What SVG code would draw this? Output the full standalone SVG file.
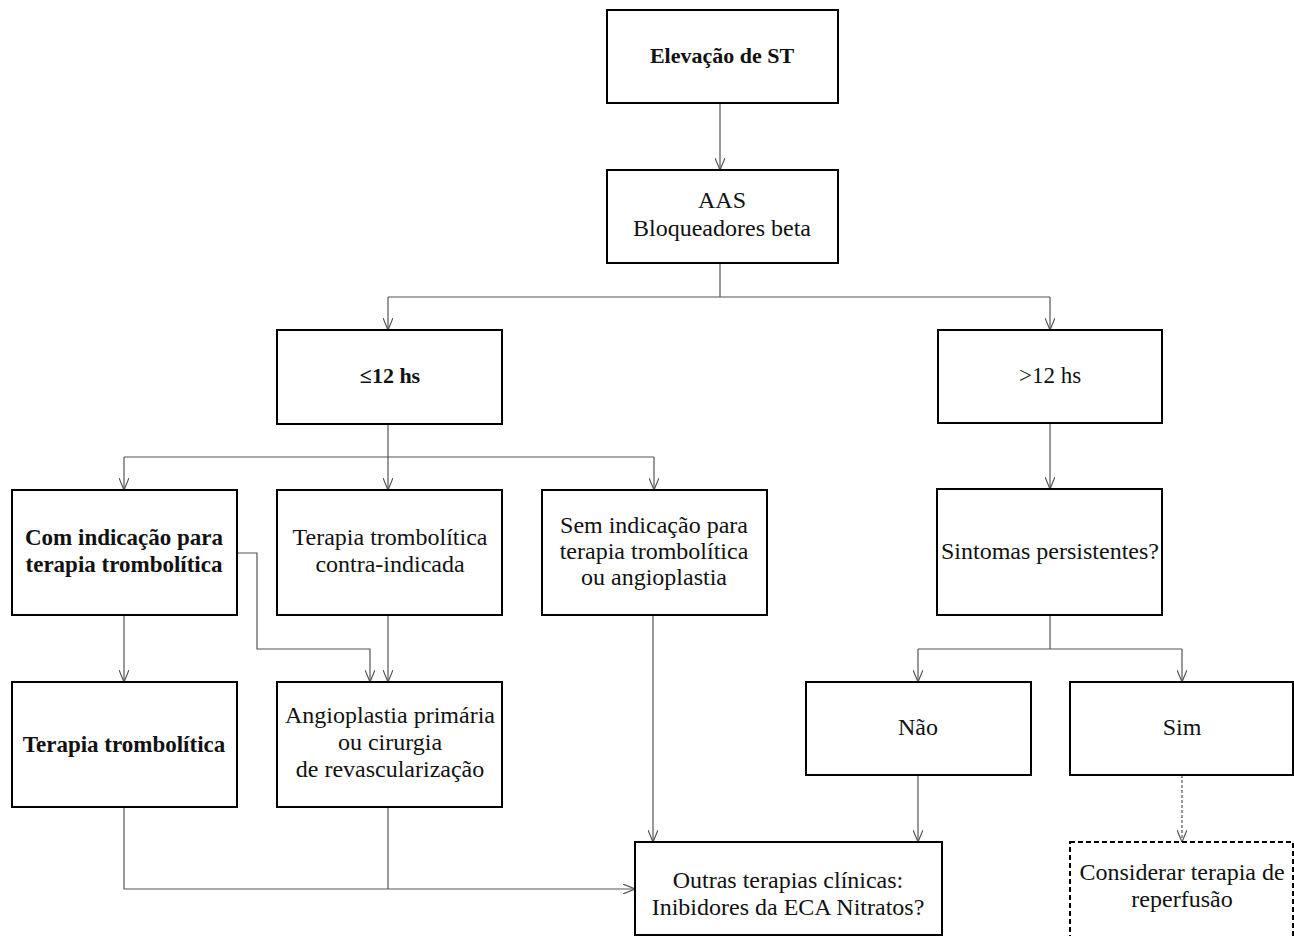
<svg xmlns="http://www.w3.org/2000/svg" width="1294" height="936" viewBox="0 0 1294 936">
<style>
.box{fill:#fff;stroke:#000;stroke-width:2}
.dbox{fill:#fff;stroke:#000;stroke-width:2;stroke-dasharray:5,3}
.t{font-family:"Liberation Serif",serif;font-size:24px;fill:#111;text-anchor:middle}
.b{font-weight:bold;font-size:23px}
.c{fill:none;stroke:#555;stroke-width:1.2}
.d{stroke-dasharray:3,2}
</style>
<defs>
<marker id="ah" markerUnits="userSpaceOnUse" viewBox="0 0 12 10" markerWidth="12" markerHeight="10" refX="12" refY="5" orient="auto">
<path d="M0,0 L12,5 L0,10" fill="none" stroke="#555" stroke-width="1.2"/>
</marker>
</defs>
<rect width="1294" height="936" fill="#fff"/>
<g id="connectors">
<path class="c" d="M720,103 V170" marker-end="url(#ah)"/>
<path class="c" d="M720,263 V297"/>
<path class="c" d="M388,297 H1050"/>
<path class="c" d="M388,297 V330" marker-end="url(#ah)"/>
<path class="c" d="M1050,297 V330" marker-end="url(#ah)"/>
<path class="c" d="M388,424 V457"/>
<path class="c" d="M124,457 H654"/>
<path class="c" d="M124,457 V490" marker-end="url(#ah)"/>
<path class="c" d="M388,457 V490" marker-end="url(#ah)"/>
<path class="c" d="M654,457 V490" marker-end="url(#ah)"/>
<path class="c" d="M1050,423 V489" marker-end="url(#ah)"/>
<path class="c" d="M1050,615 V649"/>
<path class="c" d="M918,649 H1182"/>
<path class="c" d="M918,649 V682" marker-end="url(#ah)"/>
<path class="c" d="M1182,649 V682" marker-end="url(#ah)"/>
<path class="c" d="M124,615 V682" marker-end="url(#ah)"/>
<path class="c" d="M237,553 H257 V649 H370 V682" marker-end="url(#ah)"/>
<path class="c" d="M388,615 V682" marker-end="url(#ah)"/>
<path class="c" d="M653,615 V842" marker-end="url(#ah)"/>
<path class="c" d="M918,775 V842" marker-end="url(#ah)"/>
<path class="c d" d="M1182,775 V842" marker-end="url(#ah)"/>
<path class="c" d="M124,807 V889 H635" marker-end="url(#ah)"/>
<path class="c" d="M388,807 V889"/>
</g>
<g id="n-elevacao">
<rect class="box" x="607" y="10" width="231" height="93"/>
<text class="t b" x="722" y="63" style="font-size:22px">Elevação de ST</text>
</g>
<g id="n-aas">
<rect class="box" x="607" y="170" width="231" height="93"/>
<text class="t" x="722" y="208">AAS</text>
<text class="t" x="722" y="236">Bloqueadores beta</text>
</g>
<g id="n-le12">
<rect class="box" x="277" y="330" width="225" height="94"/>
<text class="t b" x="390" y="383" style="font-size:22px">≤12 hs</text>
</g>
<g id="n-gt12">
<rect class="box" x="938" y="330" width="224" height="93"/>
<text class="t" x="1050" y="383" style="font-size:23px">&gt;12 hs</text>
</g>
<g id="n-com">
<rect class="box" x="12" y="490" width="225" height="125"/>
<text class="t b" x="124" y="545">Com indicação para</text>
<text class="t b" x="124" y="572">terapia trombolítica</text>
</g>
<g id="n-contra">
<rect class="box" x="277" y="490" width="225" height="125"/>
<text class="t" x="390" y="545">Terapia trombolítica</text>
<text class="t" x="390" y="572">contra-indicada</text>
</g>
<g id="n-sem">
<rect class="box" x="542" y="490" width="225" height="125"/>
<text class="t" x="654" y="533">Sem indicação para</text>
<text class="t" x="654" y="559">terapia trombolítica</text>
<text class="t" x="654" y="585">ou angioplastia</text>
</g>
<g id="n-sintomas">
<rect class="box" x="937" y="489" width="225" height="126"/>
<text class="t" x="1050" y="559">Sintomas persistentes?</text>
</g>
<g id="n-terapia">
<rect class="box" x="12" y="682" width="225" height="125"/>
<text class="t b" x="124" y="752">Terapia trombolítica</text>
</g>
<g id="n-angio">
<rect class="box" x="277" y="682" width="225" height="125"/>
<text class="t" x="390" y="723">Angioplastia primária</text>
<text class="t" x="390" y="750">ou cirurgia</text>
<text class="t" x="390" y="777">de revascularização</text>
</g>
<g id="n-nao">
<rect class="box" x="806" y="682" width="225" height="93"/>
<text class="t" x="918" y="735">Não</text>
</g>
<g id="n-sim">
<rect class="box" x="1070" y="682" width="223" height="93"/>
<text class="t" x="1182" y="735">Sim</text>
</g>
<g id="n-outras">
<rect class="box" x="635" y="842" width="307" height="93"/>
<text class="t" x="788" y="888">Outras terapias clínicas:</text>
<text class="t" x="788" y="915">Inibidores da ECA Nitratos?</text>
</g>
<g id="n-considerar">
<rect class="dbox" x="1070" y="842" width="223" height="110"/>
<text class="t" x="1182" y="880">Considerar terapia de</text>
<text class="t" x="1182" y="907">reperfusão</text>
</g>
</svg>
